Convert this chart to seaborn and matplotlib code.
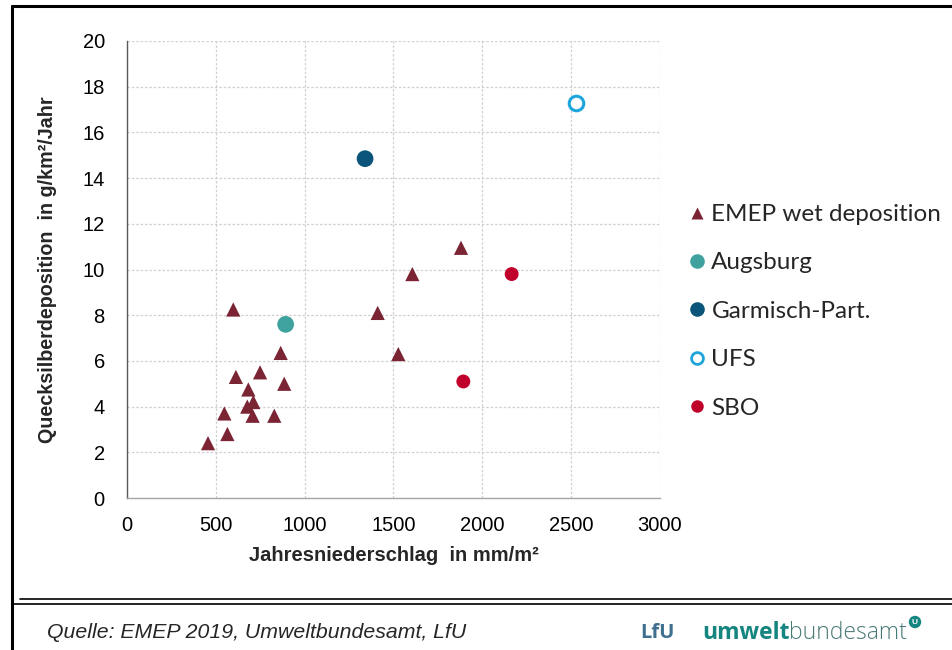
import matplotlib
matplotlib.use("Agg")
import matplotlib.pyplot as plt
from matplotlib.lines import Line2D
from matplotlib.patches import Ellipse
import seaborn as sns
import pandas as pd

# ---- data ----
emep_x = [456, 565, 548, 598, 613, 749, 683, 885, 711, 677, 707, 829, 865, 1411, 1527, 1606, 1880]
emep_y = [2.4, 2.8, 3.7, 8.25, 5.3, 5.5, 4.75, 5.0, 4.2, 4.0, 3.6, 3.6, 6.35, 8.1, 6.3, 9.8, 10.95]
augsburg_x = [893]
augsburg_y = [7.6]
garmisch_x = [1340]
garmisch_y = [14.85]
ufs_x = [2525]
ufs_y = [17.3]
sbo_x = [2165, 1893]
sbo_y = [9.8, 5.1]

series_names = ["EMEP wet deposition", "Augsburg", "Garmisch-Part.", "UFS", "SBO"]
x_ticks = [0, 500, 1000, 1500, 2000, 2500, 3000]
y_ticks = [0, 2, 4, 6, 8, 10, 12, 14, 16, 18, 20]
x_label = "Jahresniederschlag  in mm/m²"
y_label = "Quecksilberdeposition  in g/km²/Jahr"
source = "Quelle: EMEP 2019, Umweltbundesamt, LfU"

sns.set_style("white")
plt.rcParams["font.family"] = ["Liberation Sans", "DejaVu Sans"]

fig = plt.figure(figsize=(9.53, 6.5), dpi=100)
ax = fig.add_axes([127/953, 1-498/650, (660-127)/953, (498-41)/650])

c_emep = "#7a2434"
c_aug = "#40a29e"
c_gar = "#0b557a"
c_ufs = "#1ea6dc"
c_sbo = "#c0002a"

df_emep = pd.DataFrame({"x": emep_x, "y": emep_y})
sns.scatterplot(data=df_emep, x="x", y="y", marker="^", s=105, color=c_emep,
                edgecolor="none", ax=ax, zorder=3)
sns.scatterplot(x=augsburg_x, y=augsburg_y, marker="o", s=145, color=c_aug,
                edgecolor="none", ax=ax, zorder=3)
sns.scatterplot(x=garmisch_x, y=garmisch_y, marker="o", s=145, color=c_gar,
                edgecolor="none", ax=ax, zorder=3)
sns.scatterplot(x=ufs_x, y=ufs_y, marker="o", s=110, facecolor="white",
                edgecolor=c_ufs, linewidth=2.2, ax=ax, zorder=3)
sns.scatterplot(x=sbo_x, y=sbo_y, marker="o", s=100, color=c_sbo,
                edgecolor="none", ax=ax, zorder=3)

ax.set_xlim(0, 3000)
ax.set_ylim(0, 20)
ax.set_xticks(x_ticks)
ax.set_yticks(y_ticks)
ax.grid(True, color="#d0d0d0", linestyle=(0, (2, 1.5)), linewidth=0.9)
ax.set_axisbelow(True)
for s in ["top", "right"]:
    ax.spines[s].set_visible(False)
ax.spines["left"].set_color("#595959")
ax.spines["bottom"].set_color("#a6a6a6")
ax.spines["left"].set_linewidth(1.0)
ax.spines["bottom"].set_linewidth(1.0)
ax.tick_params(axis="both", length=0, labelsize=14.5, colors="#000000")
ax.tick_params(axis="x", pad=13)
ax.tick_params(axis="y", pad=16)
ax.set_xlabel(x_label, fontsize=14.5, fontweight="bold", labelpad=8)
ax.set_ylabel(y_label, fontsize=14.2, fontweight="bold", labelpad=18)

handles = [
    Line2D([], [], ls="none", marker="^", ms=8.5, color=c_emep, mec="none"),
    Line2D([], [], ls="none", marker="o", ms=10.5, color=c_aug, mec="none"),
    Line2D([], [], ls="none", marker="o", ms=10.5, color=c_gar, mec="none"),
    Line2D([], [], ls="none", marker="o", ms=8.5, mfc="white", mec=c_ufs, mew=2),
    Line2D([], [], ls="none", marker="o", ms=9, color=c_sbo, mec="none"),
]
leg = fig.legend(handles, series_names, loc="upper left",
                 bbox_to_anchor=(690/953, 1-204/650), frameon=False,
                 prop={"family": ["Lato", "DejaVu Sans"], "size": 17.5},
                 handlelength=0.6, handletextpad=0.28, labelspacing=1.13,
                 borderaxespad=0, borderpad=0)

# frame lines
fig.add_artist(Line2D([12/953, 1], [1-6/650, 1-6/650], color="black", lw=2.2))
fig.add_artist(Line2D([12.5/953, 12.5/953], [1-6/650, 0], color="black", lw=2.2))
fig.add_artist(Line2D([20/953, 1], [1-599/650, 1-599/650], color="black", lw=1.2))
fig.add_artist(Line2D([12/953, 1], [1-604/650, 1-604/650], color="black", lw=1.2))

fig.text(47/953, 1-632/650, source, fontsize=15.3, style="italic", va="center", ha="left")
fig.text(640/953, 1-633/650, "LfU", fontsize=14.5, color="#3f6f8f", fontweight="bold",
         va="center", ha="left", family=["Open Sans", "DejaVu Sans"])
fig.text(702/953, 1-633/650, "umwelt", fontsize=16.5, color="#14857f", fontweight="bold",
         va="center", ha="left", family=["Open Sans", "DejaVu Sans"])
fig.text(789/953, 1-633/650, "bundesamt", fontsize=16.5, color="#4a7a78", fontweight="light",
         va="center", ha="left", family=["Open Sans", "DejaVu Sans"])
fig.add_artist(Ellipse((915/953, 1-622/650), 11/953, 11/650, transform=fig.transFigure,
                       color="#14857f"))
fig.text(915/953, 1-622/650, "U", fontsize=6, color="white", fontweight="bold",
         ha="center", va="center")

fig.savefig("out.png", dpi=100)
